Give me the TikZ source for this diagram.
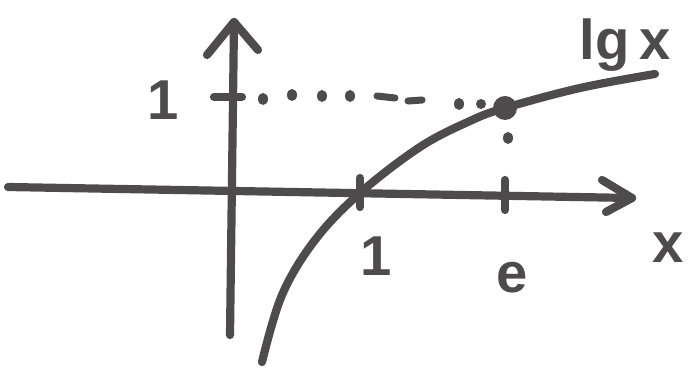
\documentclass[tikz,border=0pt]{standalone}
\usepackage{fontspec}
\setmainfont{Liberation Sans}
\definecolor{ink}{HTML}{4E4B4C}
\begin{document}
\begin{tikzpicture}[x=0.03cm,y=-0.03cm,
  pen/.style={draw=ink,line width=7pt,line cap=round,line join=round},
  lbl/.style={text=ink,font=\fontsize{48}{48}\selectfont\bfseries,inner sep=0pt}]
\useasboundingbox (0,0) rectangle (700,377);
% axes
\coordinate (xs) at (8,187);
\coordinate (xe) at (632,198);
\coordinate (xa1) at (602,180);
\coordinate (xa2) at (606,212);
\coordinate (ys) at (230,335);
\coordinate (ye) at (234,22);
\coordinate (ya1) at (207,55);
\coordinate (ya2) at (258,50);
\draw[pen] (xs) -- (xe);
\draw[pen] (xa1) -- (xe) -- (xa2);
\draw[pen] (ys) -- (ye);
\draw[pen] (ya1) -- (ye) -- (ya2);
% ticks
\coordinate (t1a) at (214,97);
\coordinate (t1b) at (242,97);
\draw[pen] (t1a) -- (t1b);
\coordinate (tea) at (505,180);
\coordinate (teb) at (505,210);
\draw[pen] (tea) -- (teb);
\coordinate (tka) at (360,178);
\coordinate (tkb) at (360,207);
\draw[pen] (tka) -- (tkb);
% curve
\draw[pen] plot[smooth,tension=0.6] coordinates {(262,362) (282,295) (315,240) (360,193) (420,147) (470,121) (505,108) (580,88) (655,74)};
% dotted line
\foreach \x/\y in {263/99, 292/95, 322/96, 350/96} \fill[ink] (\x,\y) ellipse (5 and 6);
\draw[pen,line width=6pt] (377,96) -- (395,98);
\draw[pen,line width=6pt] (408,101) -- (422,100);
\fill[ink] (459,104) ellipse (5 and 6);
\fill[ink] (481,104) ellipse (5 and 5);
% point
\coordinate (P) at (505,108);
\fill[ink] (P) circle (12);
\fill[ink] (508,138) ellipse (5 and 6);
% labels
\node[lbl] (l1) at (163,100) {1};
\node[lbl] (lk) at (376,256) {1};
\node[lbl] (le) at (512,278) {e};
\node[lbl] (lx) at (668,248) {x};
\node[lbl] (lg) at (625,45) {lg\,x};
\end{tikzpicture}
\end{document}
